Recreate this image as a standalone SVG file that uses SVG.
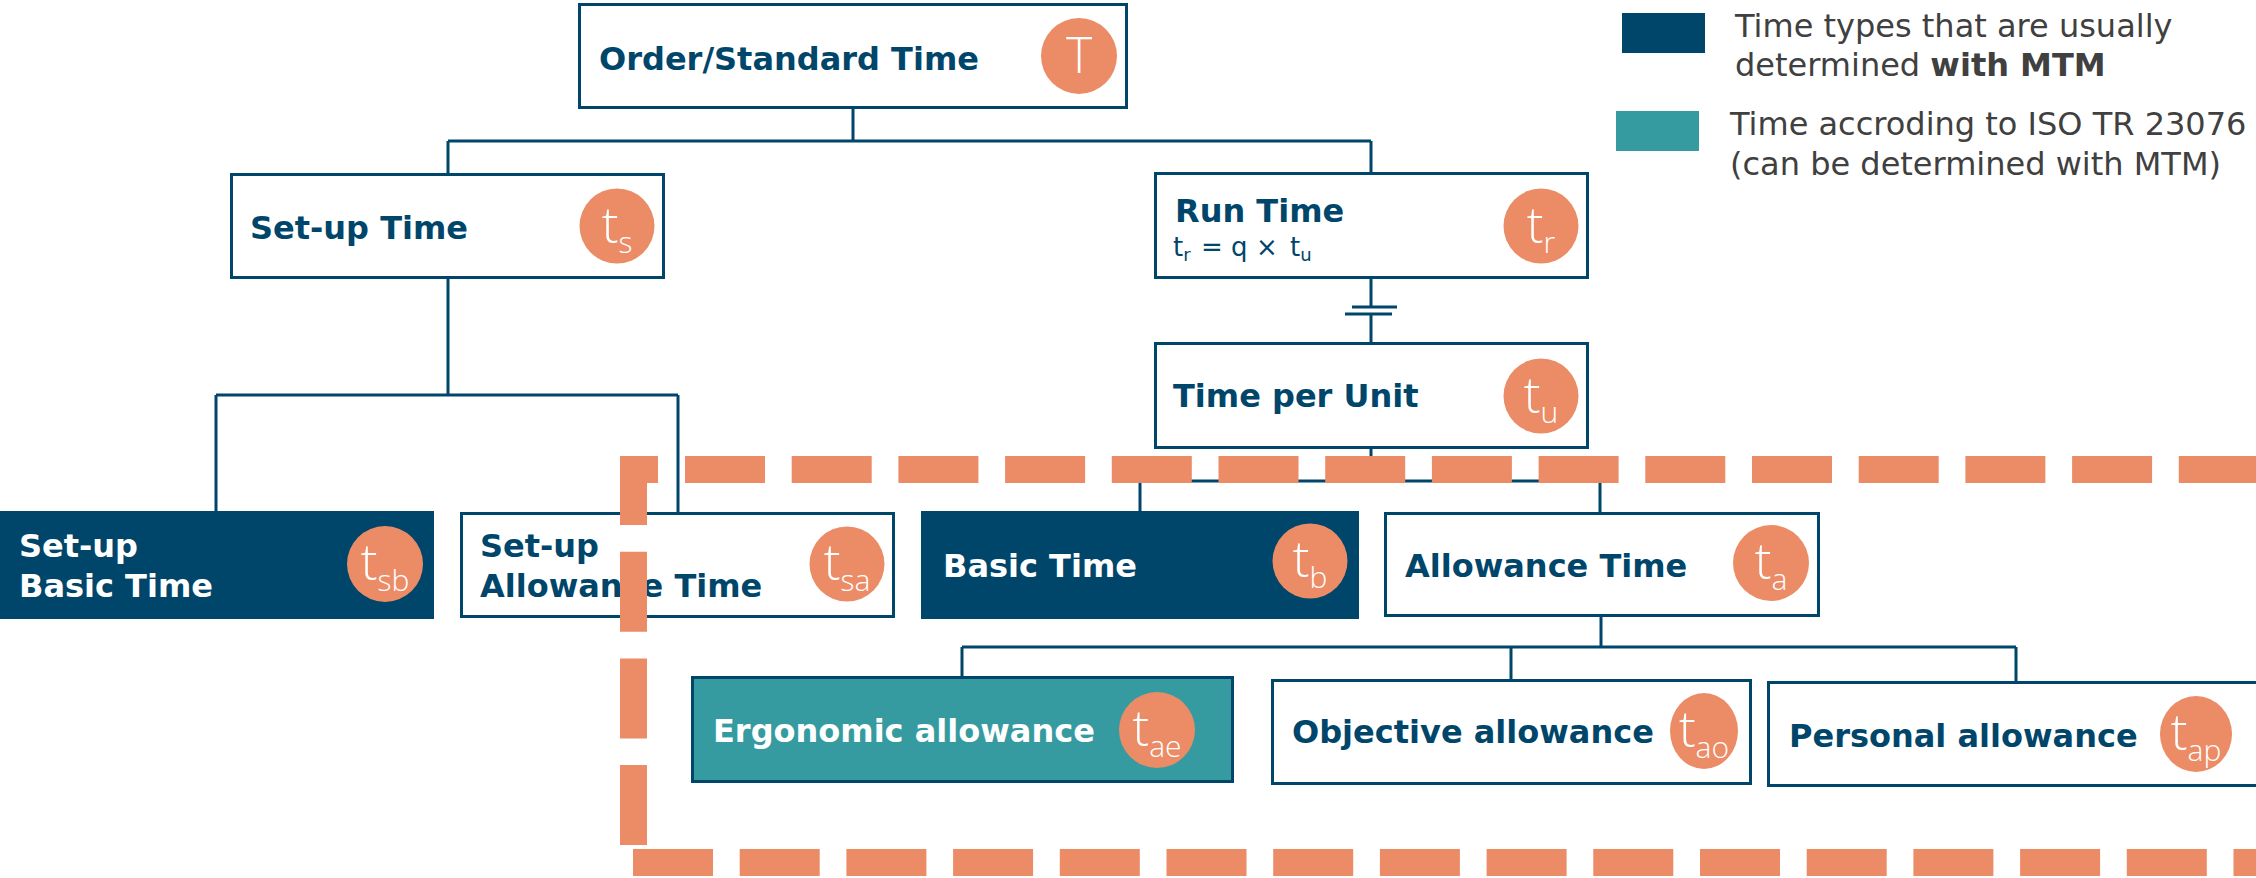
<svg xmlns="http://www.w3.org/2000/svg" width="2256" height="878" viewBox="0 0 2256 878">
<style>
.box{fill:#ffffff;stroke:#00466a;stroke-width:3}
.dark{fill:#00466a;stroke:#00466a;stroke-width:3}
.teal{fill:#369ba0;stroke:#00466a;stroke-width:3}
.lbl{font-family:"DejaVu Sans",Verdana,sans-serif;font-weight:bold;font-size:32px;fill:#00466a}
.wlbl{font-family:"DejaVu Sans",Verdana,sans-serif;font-weight:bold;font-size:32px;fill:#ffffff}
.circ{fill:#eb8c66}
.ct{font-family:"Open Sans","DejaVu Sans",sans-serif;font-weight:300;font-size:50px;fill:#ffffff;text-anchor:middle}
.sub{font-size:30px}
.f{font-family:"DejaVu Sans",Verdana,sans-serif;font-size:26px;fill:#00466a}
.fs{font-size:18px}
.leg{font-family:"DejaVu Sans",Verdana,sans-serif;font-size:32px;fill:#404040}
.conn{fill:none;stroke:#00466a;stroke-width:3}
.dash{fill:none;stroke:#eb8c66;stroke-width:27;stroke-dasharray:80 26.7;stroke-linejoin:miter}
</style>

<g id="legend">
  <rect x="1622" y="13" width="83" height="40" fill="#00466a"/>
  <text class="leg" x="1735" y="37">Time types that are usually</text>
  <text class="leg" x="1735" y="76">determined <tspan font-weight="bold">with MTM</tspan></text>
  <rect x="1616" y="111" width="83" height="40" fill="#369ba0"/>
  <text class="leg" x="1730" y="135">Time accroding to ISO TR 23076</text>
  <text class="leg" x="1730" y="175">(can be determined with MTM)</text>
</g>

<g id="connectors">
  <path class="conn" d="M853,108 V141 M448,141 H1371 M448,141 V173 M1371,141 V172"/>
  <path class="conn" d="M448,278 V395 M216,395 H678 M216,395 V511 M678,395 V512"/>
  <path class="conn" d="M1371,279 V307 M1371,314 V342 M1352,307 H1397 M1345,314 H1392"/>
  <path class="conn" d="M1371,448 V481 M1140,481 H1600 M1140,481 V511 M1600,481 V512"/>
  <path class="conn" d="M1601,617 V647 M962,647 H2016 M962,647 V676 M1511,647 V679 M2016,647 V681"/>
</g>

<g id="order-standard-time">
  <rect class="box" x="579.5" y="4.5" width="547" height="103"/>
  <text class="lbl" x="599" y="70">Order/Standard Time</text>
  <circle class="circ" cx="1079" cy="56" r="38"/>
  <text class="ct" x="1079" y="73" font-size="42">T</text>
</g>

<g id="setup-time">
  <rect class="box" x="231.5" y="174.5" width="432" height="103"/>
  <text class="lbl" x="250" y="239">Set-up Time</text>
  <circle class="circ" cx="617" cy="226" r="37.5"/>
  <text class="ct" x="617" y="243">t<tspan class="sub" dy="10">s</tspan></text>
</g>

<g id="run-time">
  <rect class="box" x="1155.5" y="173.5" width="432" height="104"/>
  <text class="lbl" x="1175" y="222">Run Time</text>
  <text class="f" x="1173" y="256">t<tspan class="fs" dy="5">r</tspan><tspan x="1201" dy="-5">=</tspan><tspan x="1231">q</tspan><tspan x="1256">×</tspan><tspan x="1290">t</tspan><tspan class="fs" dy="5">u</tspan></text>
  <circle class="circ" cx="1541" cy="226" r="37.5"/>
  <text class="ct" x="1541" y="243">t<tspan class="sub" dy="10">r</tspan></text>
</g>

<g id="time-per-unit">
  <rect class="box" x="1155.5" y="343.5" width="432" height="104"/>
  <text class="lbl" x="1173" y="407">Time per Unit</text>
  <circle class="circ" cx="1541" cy="396" r="37.5"/>
  <text class="ct" x="1541" y="413">t<tspan class="sub" dy="10">u</tspan></text>
</g>

<g id="setup-basic-time">
  <rect class="dark" x="-2" y="512.5" width="434.5" height="105"/>
  <text class="wlbl" x="19" y="557">Set-up</text>
  <text class="wlbl" x="19" y="597">Basic Time</text>
  <circle class="circ" cx="385" cy="564" r="38"/>
  <text class="ct" x="385" y="580">t<tspan class="sub" dy="11">sb</tspan></text>
</g>

<g id="setup-allowance-time">
  <rect class="box" x="461.5" y="513.5" width="432" height="103"/>
  <text class="lbl" x="480" y="557">Set-up</text>
  <text class="lbl" x="480" y="597">Allowance Time</text>
  <circle class="circ" cx="847" cy="564" r="37.5"/>
  <text class="ct" x="847" y="580">t<tspan class="sub" dy="11">sa</tspan></text>
</g>

<g id="basic-time">
  <rect class="dark" x="922.5" y="512.5" width="435" height="105"/>
  <text class="wlbl" x="943" y="577">Basic Time</text>
  <circle class="circ" cx="1310" cy="561" r="37.5"/>
  <text class="ct" x="1310" y="577">t<tspan class="sub" dy="11">b</tspan></text>
</g>

<g id="allowance-time">
  <rect class="box" x="1385.5" y="513.5" width="433" height="102"/>
  <text class="lbl" x="1405" y="577">Allowance Time</text>
  <circle class="circ" cx="1771" cy="563" r="38"/>
  <text class="ct" x="1771" y="579">t<tspan class="sub" dy="11">a</tspan></text>
</g>

<g id="ergonomic-allowance">
  <rect class="teal" x="692.5" y="677.5" width="540" height="104"/>
  <text class="wlbl" x="713" y="742">Ergonomic allowance</text>
  <circle class="circ" cx="1157" cy="730" r="38"/>
  <text class="ct" x="1157" y="746">t<tspan class="sub" dy="11">ae</tspan></text>
</g>

<g id="objective-allowance">
  <rect class="box" x="1272.5" y="680.5" width="478" height="103"/>
  <text class="lbl" x="1292" y="743">Objective allowance</text>
  <ellipse class="circ" cx="1704" cy="731" rx="34" ry="38"/>
  <text class="ct" x="1704" y="747">t<tspan class="sub" dy="11">ao</tspan></text>
</g>

<g id="personal-allowance">
  <rect class="box" x="1768.5" y="682.5" width="520" height="103"/>
  <text class="lbl" x="1789" y="747">Personal allowance</text>
  <ellipse class="circ" cx="2196" cy="734" rx="36" ry="38"/>
  <text class="ct" x="2196" y="750">t<tspan class="sub" dy="11">ap</tspan></text>
</g>

<g id="iso-boundary">
  <path class="dash" d="M658,469.5 H633.5 V845"/>
  <path class="dash" d="M685,469.5 H2300"/>
  <path class="dash" d="M633,862.5 H2300"/>
</g>
</svg>
